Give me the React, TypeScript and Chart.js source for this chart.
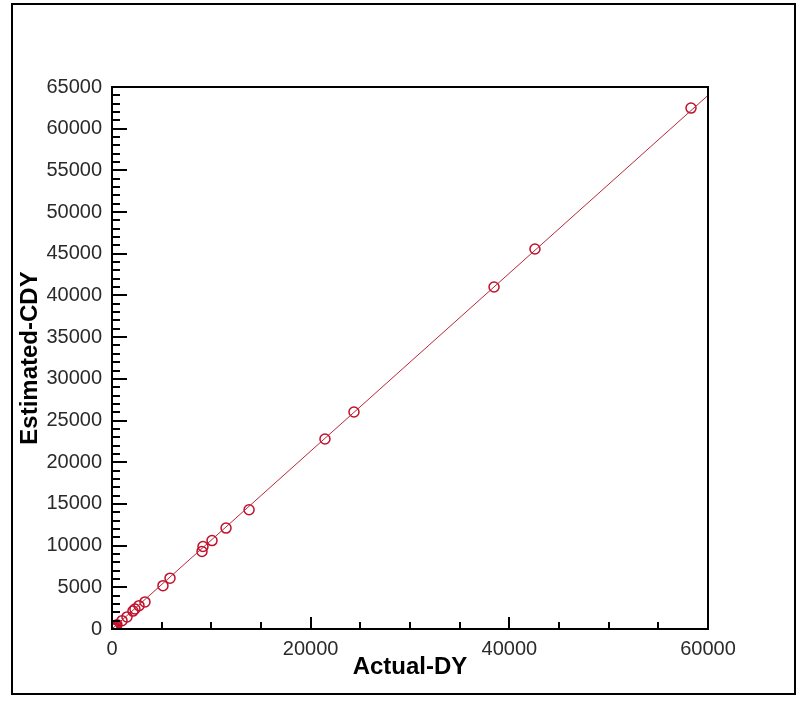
import React, { useEffect, useRef } from "react";
import { Chart, registerables } from "chart.js";

Chart.register(...registerables);

// Measured data: Actual-DY (x) vs Estimated-CDY (y)
const actualDY = [
  30, 60, 120, 200, 300, 420, 500, 1010, 1510, 2110, 2310, 2720, 3320, 5130, 5840,
  9060, 9160, 10070, 11480, 13800, 21440, 24360, 38460, 42580, 58290,
];
const estimatedCDY = [
  20, 50, 130, 190, 280, 400, 520, 1000, 1450, 2150, 2400, 2800, 3250, 5200, 6100,
  9300, 9900, 10600, 12100, 14300, 22790, 26020, 41020, 45570, 62470,
];
// Fitted line end points
const fitX = [0, 60000];
const fitY = [0, 64000];

const xTickValues = [0, 20000, 40000, 60000];
const yTickValues = [0, 5000, 10000, 15000, 20000, 25000, 30000, 35000, 40000, 45000, 50000, 55000, 60000, 65000];
const xMinorStep = 5000;
const yMinorStep = 1000;

const framePlugin = {
  id: "framePlugin",
  beforeDraw(chart: any) {
    const ctx = chart.ctx;
    ctx.save();
    ctx.fillStyle = "#ffffff";
    ctx.fillRect(0, 0, chart.width, chart.height);
    ctx.strokeStyle = "#000000";
    ctx.lineWidth = 2;
    ctx.strokeRect(12, 4, 783, 690);
    ctx.restore();
  },
  afterDraw(chart: any) {
    const ctx = chart.ctx;
    const { left, right, top, bottom } = chart.chartArea;
    const xs = chart.scales.x;
    const ys = chart.scales.y;
    ctx.save();
    ctx.strokeStyle = "#000000";
    ctx.lineWidth = 2;
    ctx.strokeRect(left, top, right - left, bottom - top);
    ctx.beginPath();
    for (let v = ys.min; v <= ys.max; v += yMinorStep) {
      const py = Math.round(ys.getPixelForValue(v));
      const len = yTickValues.includes(v) ? 15 : 8;
      ctx.moveTo(left, py);
      ctx.lineTo(left + len, py);
    }
    for (let v = xs.min; v <= xs.max; v += xMinorStep) {
      const px = Math.round(xs.getPixelForValue(v));
      const len = xTickValues.includes(v) ? 12 : 7;
      ctx.moveTo(px, bottom);
      ctx.lineTo(px, bottom - len);
    }
    ctx.stroke();
    ctx.restore();
  },
};

export default function App() {
  const ref = useRef<HTMLCanvasElement | null>(null);
  useEffect(() => {
    if (!ref.current) return;
    const points = actualDY.map((x, i) => ({ x, y: estimatedCDY[i] }));
    const line = fitX.map((x, i) => ({ x, y: fitY[i] }));
    const tickFont = { family: "'Liberation Sans', Arial, sans-serif", size: 20 };
    const titleFont = { family: "'Liberation Sans', Arial, sans-serif", size: 24, weight: "bold" as const };
    const chart = new Chart(ref.current, {
      type: "scatter",
      data: {
        datasets: [
          {
            type: "line",
            data: line,
            borderColor: "#b8283a",
            borderWidth: 1,
            pointRadius: 0,
            fill: false,
          } as any,
          {
            data: points,
            pointStyle: "circle",
            pointRadius: 5,
            pointBorderWidth: 1.5,
            borderColor: "#c0102a",
            backgroundColor: "rgba(0,0,0,0)",
          },
        ],
      },
      options: {
        responsive: false,
        animation: false,
        events: [],
        layout: { padding: { top: 87, right: 99, left: 0, bottom: 0 } },
        plugins: { legend: { display: false }, tooltip: { enabled: false } },
        scales: {
          x: {
            type: "linear",
            min: 0,
            max: 60000,
            afterFit: (s: any) => { s.height = 80; },
            afterBuildTicks: (s: any) => { s.ticks = xTickValues.map((v) => ({ value: v })); },
            grid: { display: false, drawTicks: false },
            border: { display: false },
            ticks: { padding: 8, color: "#2a2a2a", font: tickFont, maxRotation: 0, callback: (v: any) => String(v) },
            title: { display: true, text: "Actual-DY", color: "#000", font: titleFont, padding: { top: 0, bottom: 27 } },
          },
          y: {
            type: "linear",
            min: 0,
            max: 65000,
            afterFit: (s: any) => { s.width = 112; },
            afterBuildTicks: (s: any) => { s.ticks = yTickValues.map((v) => ({ value: v })); },
            grid: { display: false, drawTicks: false },
            border: { display: false },
            ticks: { padding: 10, color: "#2a2a2a", font: tickFont, callback: (v: any) => String(v) },
            title: { display: true, text: "Estimated-CDY", color: "#000", font: titleFont, padding: { top: 16, bottom: 0 } },
          },
        },
      },
      plugins: [framePlugin],
    });
    return () => chart.destroy();
  }, []);
  return (
    <div style={{ position: "fixed", left: 0, top: 0, width: 807, height: 709, background: "#fff" }}>
      <canvas ref={ref} width={807} height={709} style={{ width: 807, height: 709, display: "block" }} />
    </div>
  );
}
